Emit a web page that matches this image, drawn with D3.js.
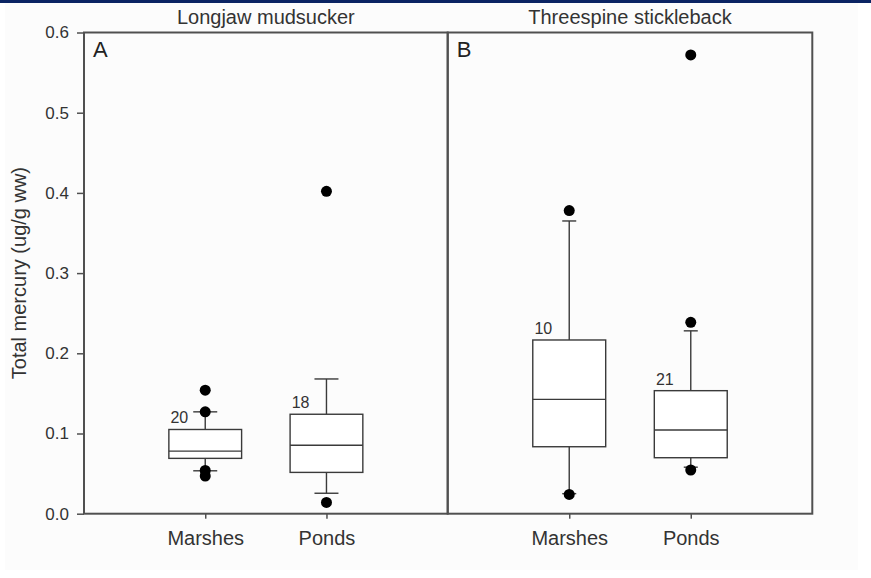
<!DOCTYPE html>
<html>
<head>
<meta charset="utf-8">
<script src="https://cdn.jsdelivr.net/npm/d3@7"></script>
<style>
  html, body { margin: 0; padding: 0; background: #ffffff; }
  svg { display: block; font-family: "Liberation Sans", Arial, sans-serif; }
</style>
</head>
<body>
<svg id="chart" width="871" height="578"></svg>
<script>
// ---- data ----
const species = ["Longjaw mudsucker", "Threespine stickleback"];
const panelLetters = ["A", "B"];
const habitats = ["Marshes", "Ponds"];
const sampleSizes = [[20, 18], [10, 21]];
const whiskerLow  = [[0.0535, 0.0255], [0.025, 0.058]];
const quartile1   = [[0.069, 0.0515], [0.0835, 0.0698]];
const medians     = [[0.078, 0.0853], [0.1426, 0.1044]];
const quartile3   = [[0.105, 0.124], [0.2166, 0.1534]];
const whiskerHigh = [[0.127, 0.168], [0.365, 0.228]];
const outliers    = [[[0.154, 0.127, 0.054, 0.047], [0.402, 0.014]],
                     [[0.378, 0.024], [0.572, 0.2386, 0.0545]]];
const yTicks = [0.0, 0.1, 0.2, 0.3, 0.4, 0.5, 0.6];
const yTitle = "Total mercury (ug/g ww)";

// ---- layout ----
const svg = d3.select("#chart");
const plotTop = 32.5, plotBottom = 513.7;
const panelEdges = [[84, 447.7], [447.7, 812.3]];
const capWidths = [24, 14];
const axisColor = "#505050";
const boxColor = "#3a3a3a";

svg.append("rect").attr("x", 0).attr("y", 0).attr("width", 871).attr("height", 578).attr("fill", "#ffffff");
svg.append("rect").attr("x", 5).attr("y", 3).attr("width", 853).attr("height", 567).attr("fill", "#fcfcfc");
svg.append("rect").attr("x", 0).attr("y", 0).attr("width", 871).attr("height", 3).attr("fill", "#0b2463");

const y = d3.scaleLinear().domain([0, 0.6]).range([plotBottom, plotTop]);

// y axis (left)
const yAxis = d3.axisLeft(y).tickValues(yTicks).tickFormat(d3.format(".1f")).tickSize(7).tickPadding(8);
const gy = svg.append("g").attr("transform", `translate(${panelEdges[0][0]},0)`).call(yAxis);
gy.select(".domain").remove();
gy.selectAll(".tick line").attr("stroke", axisColor).attr("stroke-width", 1.5);
gy.selectAll(".tick text").attr("font-size", 17).attr("fill", "#333").attr("font-family", "Liberation Sans, Arial, sans-serif");

// y title
svg.append("text")
  .attr("transform", `translate(26,${(plotTop + plotBottom) / 2}) rotate(-90)`)
  .attr("text-anchor", "middle")
  .attr("font-size", 20)
  .attr("fill", "#333")
  .text(yTitle);

species.forEach((sp, p) => {
  const [x0, x1] = panelEdges[p];
  const x = d3.scalePoint().domain(habitats).range([x0, x1]).padding(1);
  const step = x.step();
  const boxW = step * 0.6;
  const g = svg.append("g");

  // frame
  g.append("rect").attr("x", x0).attr("y", plotTop).attr("width", x1 - x0).attr("height", plotBottom - plotTop)
    .attr("fill", "none").attr("stroke", axisColor).attr("stroke-width", 2);

  // x axis ticks + labels
  const xAxis = d3.axisBottom(x).tickSize(5).tickPadding(12);
  const gx = g.append("g").attr("transform", `translate(0,${plotBottom})`).call(xAxis);
  gx.select(".domain").remove();
  gx.selectAll(".tick line").attr("stroke", axisColor).attr("stroke-width", 1.5);
  gx.selectAll(".tick text").attr("font-size", 20).attr("fill", "#333")
    .attr("font-family", "Liberation Sans, Arial, sans-serif");

  // title
  g.append("text").attr("x", (x0 + x1) / 2).attr("y", 24).attr("text-anchor", "middle")
    .attr("font-size", 20).attr("fill", "#333").text(sp);
  // panel letter
  g.append("text").attr("x", x0 + 9).attr("y", 57).attr("font-size", 22).attr("fill", "#222").text(panelLetters[p]);

  habitats.forEach((h, i) => {
    const cx = x(h);
    const bg = g.append("g").attr("stroke", boxColor).attr("stroke-width", 1.4).attr("fill", "none");
    // whiskers
    bg.append("line").attr("x1", cx).attr("x2", cx).attr("y1", y(quartile3[p][i])).attr("y2", y(whiskerHigh[p][i]));
    bg.append("line").attr("x1", cx).attr("x2", cx).attr("y1", y(quartile1[p][i])).attr("y2", y(whiskerLow[p][i]));
    [whiskerHigh[p][i], whiskerLow[p][i]].forEach(v => {
      bg.append("line").attr("x1", cx - capWidths[p] / 2).attr("x2", cx + capWidths[p] / 2)
        .attr("y1", y(v)).attr("y2", y(v));
    });
    // box
    bg.append("rect").attr("x", cx - boxW / 2).attr("y", y(quartile3[p][i]))
      .attr("width", boxW).attr("height", y(quartile1[p][i]) - y(quartile3[p][i])).attr("fill", "#fff");
    bg.append("line").attr("x1", cx - boxW / 2).attr("x2", cx + boxW / 2)
      .attr("y1", y(medians[p][i])).attr("y2", y(medians[p][i]));
    // outliers
    g.selectAll(null).data(outliers[p][i]).enter().append("circle")
      .attr("cx", cx).attr("cy", d => y(d)).attr("r", 5.5).attr("fill", "#000");
    // n label
    g.append("text").attr("x", cx - 17).attr("y", y(quartile3[p][i]) - 6)
      .attr("text-anchor", "end").attr("font-size", 16).attr("fill", "#333").text(sampleSizes[p][i]);
  });
});
</script>
</body>
</html>
